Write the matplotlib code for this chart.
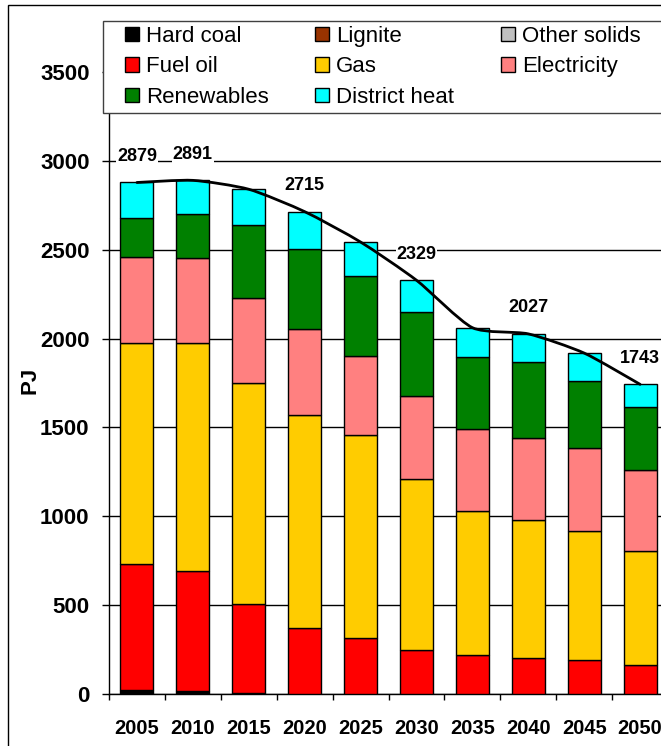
import numpy as np
import matplotlib
matplotlib.use("Agg")
import matplotlib.pyplot as plt
from matplotlib.path import Path
from matplotlib.patches import PathPatch, Rectangle

plt.rcParams["font.family"] = ["Liberation Sans", "DejaVu Sans"]

# ------------------------------------------------------------
# data (PJ)
# ------------------------------------------------------------
years = ["2005", "2010", "2015", "2020", "2025", "2030", "2035", "2040", "2045", "2050"]

hard_coal     = [25, 18, 8, 0, 0, 0, 0, 0, 0, 0]
lignite       = [0, 0, 0, 0, 0, 0, 0, 0, 0, 0]
other_solids  = [0, 0, 0, 0, 0, 0, 0, 0, 0, 0]
fuel_oil      = [707, 676, 500, 372, 313, 249, 217, 202, 194, 166]
gas           = [1243, 1281, 1244, 1200, 1145, 959, 812, 779, 721, 637]
electricity   = [485, 479, 477, 481, 445, 470, 462, 462, 471, 460]
renewables    = [219, 250, 409, 450, 448, 472, 405, 423, 373, 351]
district_heat = [200, 187, 203, 212, 193, 179, 166, 161, 160, 129]

# years whose total is written above the bar
labelled_years = ["2005", "2010", "2020", "2030", "2040", "2050"]

series = [
    ("Hard coal",     hard_coal,     "#000000"),
    ("Lignite",       lignite,       "#993300"),
    ("Other solids",  other_solids,  "#C0C0C0"),
    ("Fuel oil",      fuel_oil,      "#FF0000"),
    ("Gas",           gas,           "#FFCC00"),
    ("Electricity",   electricity,   "#FF8080"),
    ("Renewables",    renewables,    "#008000"),
    ("District heat", district_heat, "#00FFFF"),
]


def smooth_path(x, y, k=1 / 9):
    """Smoothed line: cubic Bezier segments passing through every point."""
    pts = np.column_stack([x, y]).astype(float)
    ext = np.vstack([pts[0], pts, pts[-1]])
    verts = [pts[0]]
    codes = [Path.MOVETO]
    for i in range(len(pts) - 1):
        p0, p1, p2, p3 = ext[i], ext[i + 1], ext[i + 2], ext[i + 3]
        verts += [p1 + (p2 - p0) * k, p2 - (p3 - p1) * k, p2]
        codes += [Path.CURVE4] * 3
    return Path(verts, codes)


W, H = 661, 746
fig = plt.figure(figsize=(W / 100, H / 100), dpi=100)

# axes box in pixels: left axis x=109, baseline y=694, 3000 PJ at y=161
px_per_pj = (694 - 161) / 3000
ymax = 3700
left, bottom = 109 / W, 1 - 694 / H
height = ymax * px_per_pj / H
width = 10 * 55.9 / W
ax = fig.add_axes([left, bottom, width, height])

x = np.arange(len(years))
base = np.zeros(len(years))
handles = {}
for name, vals, col in series:
    vals = np.array(vals, dtype=float)
    b = ax.bar(x, vals, bottom=base, width=0.59, color=col, edgecolor="black",
               linewidth=1.0, zorder=3, label=name)
    handles[name] = b
    base += vals

totals = base
ax.add_patch(PathPatch(smooth_path(x, totals), facecolor="none",
                       edgecolor="black", linewidth=2.0, zorder=5,
                       capstyle="round", joinstyle="round"))

for i, yr in enumerate(years):
    if yr in labelled_years:
        ax.annotate(f"{totals[i]:.0f}", (i, totals[i]), xytext=(0, 26),
                    textcoords="offset pixels", ha="center", va="center",
                    fontsize=13, fontweight="bold", zorder=6,
                    bbox=dict(boxstyle="square,pad=0.05", facecolor="white",
                              edgecolor="none"))

ax.set_xlim(-0.5, len(years) - 0.5)
ax.set_ylim(0, ymax)
ax.set_yticks(np.arange(0, 3501, 500))
ax.set_xticks(x)
ax.set_xticklabels(years)
ax.set_xticks(np.arange(-0.5, len(years), 1), minor=True)
ax.tick_params(axis="x", which="major", length=0, pad=18, labelsize=14.5)
ax.tick_params(axis="x", which="minor", length=4.5, width=1, direction="out")
ax.tick_params(axis="y", length=5, width=1, direction="out", pad=9, labelsize=16)
for lab in ax.get_xticklabels() + ax.get_yticklabels():
    lab.set_fontweight("bold")

ax.yaxis.grid(True, color="black", linewidth=1.0, zorder=0)
ax.set_axisbelow(True)
for s in ("top", "right"):
    ax.spines[s].set_visible(False)
ax.spines["left"].set_linewidth(1.0)
ax.spines["bottom"].set_linewidth(1.0)

fig.text(30 / W, 1 - 380 / H, "PJ", rotation=90, ha="center", va="center",
         fontsize=16, fontweight="bold")

# legend box: white frame, its right side runs off the picture
fig.patches.append(Rectangle((103 / W, 1 - 113 / H), 0.95, 92 / H,
                             transform=fig.transFigure, facecolor="white",
                             edgecolor="#404040", linewidth=1.0, zorder=8))

# legend laid out in three columns, filled column by column
order = ["Hard coal", "Fuel oil", "Renewables",
         "Lignite", "Gas", "District heat",
         "Other solids", "Electricity"]
leg = fig.legend([handles[n] for n in order], order, ncol=3,
                 loc="upper left", bbox_to_anchor=(125 / W, 1 - 26 / H),
                 bbox_transform=fig.transFigure, fontsize=16,
                 frameon=False, handlelength=0.62, handleheight=0.62,
                 handletextpad=0.32, columnspacing=2.1, labelspacing=0.42,
                 borderpad=0, borderaxespad=0)
leg.set_zorder(10)

# outer chart border (left and top edges visible, rest cropped)
fig.patches.append(Rectangle((8 / W, -0.1), 1.2, 1.1 - 5 / H,
                             transform=fig.transFigure, fill=False,
                             edgecolor="black", linewidth=1.0))

fig.savefig("out.png", dpi=100)
